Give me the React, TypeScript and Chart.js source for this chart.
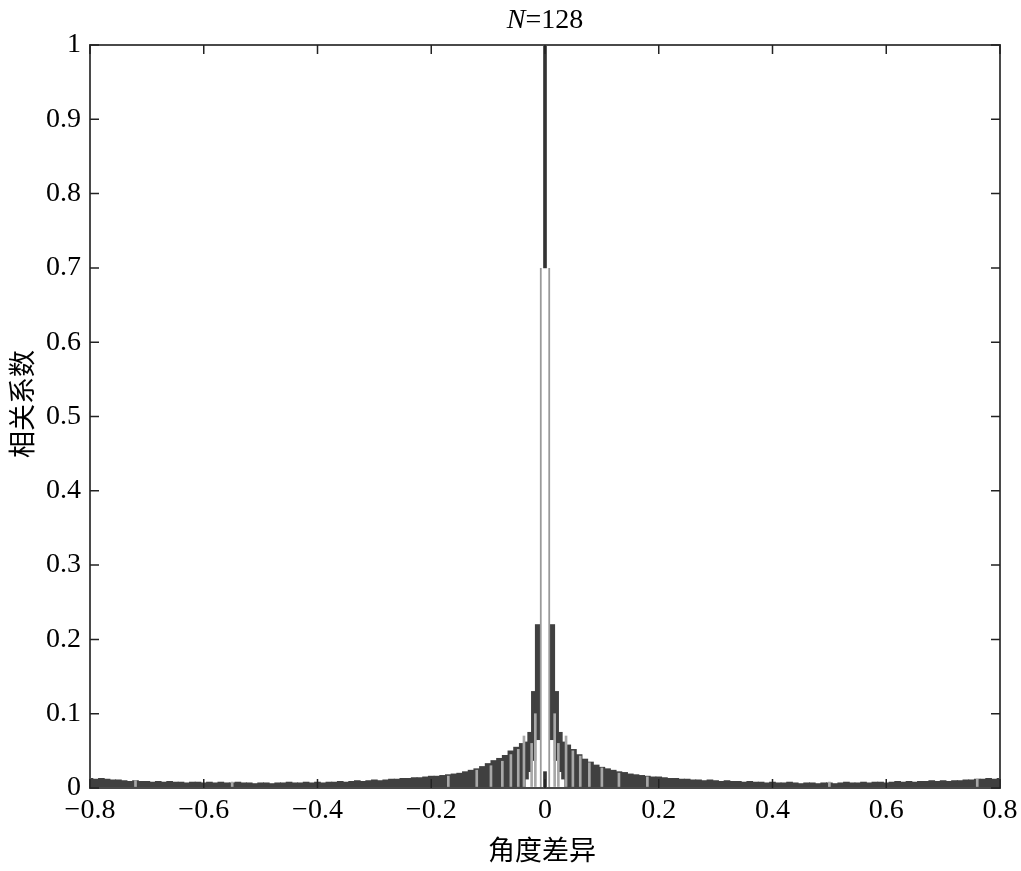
import React, { useEffect, useRef } from "react";
import { Chart, registerables } from "chart.js";

Chart.register(...registerables);

// ---- data ----
const titleItalic = "N";
const titleRest = "=128";
const xAxisTitle = "角度差异";
const yAxisTitle = "相关系数";
const xTickLabels = ["\u22120.8", "\u22120.6", "\u22120.4", "\u22120.2", "0", "0.2", "0.4", "0.6", "0.8"];
const xTickValues = [-0.8, -0.6, -0.4, -0.2, 0, 0.2, 0.4, 0.6, 0.8];
const yTickLabels = ["0", "0.1", "0.2", "0.3", "0.4", "0.5", "0.6", "0.7", "0.8", "0.9", "1"];
const yTickValues = [0, 0.1, 0.2, 0.3, 0.4, 0.5, 0.6, 0.7, 0.8, 0.9, 1];

// upper envelope of the dense side lobes, x = -0.80 ... -0.04 (step 0.01)
const leftStart = -0.8;
const leftUpper = [
  0.013, 0.012, 0.013, 0.012, 0.011, 0.011, 0.010, 0.009, 0.010, 0.009,
  0.009, 0.008, 0.009, 0.008, 0.009, 0.008, 0.008, 0.007, 0.008, 0.008,
  0.007, 0.008, 0.007, 0.008, 0.007, 0.007, 0.008, 0.007, 0.007, 0.006,
  0.007, 0.007, 0.006, 0.007, 0.007, 0.008, 0.007, 0.007, 0.008, 0.007,
  0.008, 0.007, 0.008, 0.008, 0.009, 0.008, 0.009, 0.010, 0.009, 0.010,
  0.011, 0.010, 0.011, 0.012, 0.012, 0.013, 0.013, 0.014, 0.014, 0.015,
  0.016, 0.016, 0.017, 0.018, 0.019, 0.020, 0.022, 0.024, 0.026, 0.029,
  0.033, 0.037, 0.040, 0.044, 0.050, 0.055, 0.060,
];
// x = 0.04 ... 0.80 (step 0.01)
const rightStart = 0.04;
const rightUpper = [
  0.058, 0.052, 0.045, 0.039, 0.035, 0.031, 0.028, 0.026, 0.024, 0.022,
  0.021, 0.019, 0.018, 0.017, 0.016, 0.015, 0.015, 0.014, 0.013, 0.013,
  0.012, 0.012, 0.011, 0.011, 0.010, 0.011, 0.010, 0.009, 0.010, 0.009,
  0.009, 0.008, 0.009, 0.008, 0.008, 0.007, 0.008, 0.007, 0.007, 0.008,
  0.007, 0.006, 0.007, 0.007, 0.006, 0.007, 0.007, 0.006, 0.007, 0.008,
  0.007, 0.007, 0.008, 0.007, 0.008, 0.008, 0.007, 0.008, 0.009, 0.008,
  0.009, 0.008, 0.009, 0.009, 0.010, 0.009, 0.010, 0.009, 0.010, 0.010,
  0.011, 0.011, 0.012, 0.012, 0.013, 0.012, 0.013,
];

// first side lobes next to the main peak (floating dark bars)
const centerX = [-0.033, -0.0265, -0.02, -0.0132, 0.0132, 0.02, 0.0265, 0.033];
const centerLow = [0.012, 0.022, 0.037, 0.065, 0.065, 0.037, 0.022, 0.012];
const centerHigh = [0.062, 0.075, 0.13, 0.22, 0.22, 0.13, 0.075, 0.062];

// light grey stripes inside the lobes
const stripeX = [-0.17, -0.12, -0.095, -0.075, -0.06, -0.047, -0.037, -0.0235, -0.017, 0.017, 0.0235, 0.037, 0.049, 0.062, 0.078, 0.1, 0.13, 0.18, -0.72, -0.55, 0.5, 0.76];
const stripeHigh = [0.016, 0.024, 0.03, 0.036, 0.045, 0.052, 0.07, 0.06, 0.1, 0.1, 0.06, 0.07, 0.05, 0.043, 0.034, 0.027, 0.02, 0.015, 0.01, 0.008, 0.008, 0.012];

// main lobe
const peakValue = 1.0;
const mainLobeEdge = 0.7;
const peakFoot = 0.022;

export default function App() {
  const ref = useRef<HTMLCanvasElement | null>(null);

  useEffect(() => {
    document.body.style.margin = "0";
    document.body.style.overflow = "hidden";
    const canvas = ref.current;
    if (!canvas) return;

    const mainData = [
      ...leftUpper.map((v, i) => ({ x: leftStart + i * 0.01, y: v })),
      ...rightUpper.map((v, i) => ({ x: rightStart + i * 0.01, y: v })),
    ];
    const centerData = centerX.map((x, i) => ({ x, y: [centerLow[i], centerHigh[i]] }));
    const stripeData = stripeX.map((x, i) => ({ x, y: [0.002, stripeHigh[i]] }));

    const serif = '"Liberation Serif", "Times New Roman", serif';
    const cjk = '"Noto Sans CJK SC", sans-serif';

    const framePlugin = {
      id: "frame",
      afterDatasetsDraw(chart: any) {
        const { ctx, chartArea } = chart;
        const { left, right, top, bottom } = chartArea;
        const xs = chart.scales.x;
        const ys = chart.scales.y;
        ctx.save();
        ctx.strokeStyle = "#4a4a4a";
        ctx.lineWidth = 2;
        ctx.strokeRect(left, top, right - left, bottom - top);
        ctx.lineWidth = 1.5;
        ctx.strokeStyle = "#222";
        const tl = 9;
        ctx.beginPath();
        for (const v of xTickValues) {
          const px = xs.getPixelForValue(v);
          ctx.moveTo(px, bottom);
          ctx.lineTo(px, bottom - tl);
          ctx.moveTo(px, top);
          ctx.lineTo(px, top + tl);
        }
        for (const v of yTickValues) {
          const py = ys.getPixelForValue(v);
          ctx.moveTo(left, py);
          ctx.lineTo(left + tl, py);
          ctx.moveTo(right, py);
          ctx.lineTo(right - tl, py);
        }
        ctx.stroke();
        ctx.restore();
      },
      afterDraw(chart: any) {
        const { ctx, chartArea } = chart;
        const cx = (chartArea.left + chartArea.right) / 2;
        ctx.save();
        ctx.fillStyle = "#000";
        ctx.textBaseline = "alphabetic";
        ctx.font = `italic 28px ${serif}`;
        const w1 = ctx.measureText(titleItalic).width;
        ctx.font = `28px ${serif}`;
        const w2 = ctx.measureText(titleRest).width;
        const sx = cx - (w1 + w2) / 2;
        ctx.font = `italic 28px ${serif}`;
        ctx.textAlign = "left";
        ctx.fillText(titleItalic, sx, 28);
        ctx.font = `28px ${serif}`;
        ctx.fillText(titleRest, sx + w1, 28);

        ctx.font = `27px ${cjk}`;
        ctx.textAlign = "center";
        ctx.textBaseline = "middle";
        ctx.fillText(xAxisTitle, cx - 3, 850);

        ctx.translate(22, 404);
        ctx.rotate(-Math.PI / 2);
        ctx.fillText(yAxisTitle, 0, 0);
        ctx.restore();
      },
    };

    const chart = new Chart(canvas, {
      type: "bar",
      data: {
        datasets: [
          {
            label: "peak",
            data: [{ x: 0, y: [mainLobeEdge, peakValue] }, { x: 0, y: [0, peakFoot] }],
            backgroundColor: "#333333",
            barThickness: 3,
            grouped: false,
            order: 0,
          } as any,
          {
            label: "main lobe",
            data: [{ x: 0, y: [0, mainLobeEdge] }],
            backgroundColor: "#ffffff",
            borderColor: "#9a9a9a",
            borderWidth: { left: 2, right: 2, top: 0, bottom: 0 },
            borderSkipped: false,
            barThickness: 10,
            grouped: false,
            order: 1,
          } as any,
          {
            label: "stripes",
            data: stripeData,
            backgroundColor: "#a8a8a8",
            barThickness: 2,
            grouped: false,
            order: 2,
          } as any,
          {
            label: "first lobes",
            data: centerData,
            backgroundColor: "#404040",
            barThickness: 4.5,
            grouped: false,
            order: 3,
          } as any,
          {
            label: "side lobes",
            data: mainData,
            backgroundColor: "#404040",
            barThickness: 6,
            grouped: false,
            order: 4,
          } as any,
        ],
      },
      options: {
        animation: false,
        responsive: false,
        maintainAspectRatio: false,
        layout: { padding: { left: 0, right: 21, top: 45, bottom: 0 } },
        plugins: { legend: { display: false }, tooltip: { enabled: false }, title: { display: false } },
        scales: {
          x: {
            type: "linear",
            min: -0.8,
            max: 0.8,
            offset: false,
            grid: { display: false, drawTicks: false },
            border: { display: false },
            ticks: {
              stepSize: 0.2,
              maxRotation: 0,
              autoSkip: false,
              padding: 6,
              color: "#000",
              font: { family: serif, size: 28 },
              callback: (_v: any, i: number) => xTickLabels[i],
            },
            afterFit: (s: any) => {
              s.height = 83;
              s.paddingLeft = 0;
              s.paddingRight = 0;
            },
          },
          y: {
            type: "linear",
            min: 0,
            max: 1,
            grid: { display: false, drawTicks: false },
            border: { display: false },
            ticks: {
              stepSize: 0.1,
              autoSkip: false,
              padding: 9,
              color: "#000",
              font: { family: serif, size: 28 },
              callback: (_v: any, i: number) => yTickLabels[i],
            },
            afterFit: (s: any) => {
              s.width = 90;
              s.paddingTop = 0;
              s.paddingBottom = 0;
            },
          },
        },
      } as any,
      plugins: [framePlugin],
    });

    return () => chart.destroy();
  }, []);

  return (
    <div style={{ width: 1021, height: 871 }}>
      <canvas ref={ref} width={1021} height={871} style={{ display: "block" }} />
    </div>
  );
}
